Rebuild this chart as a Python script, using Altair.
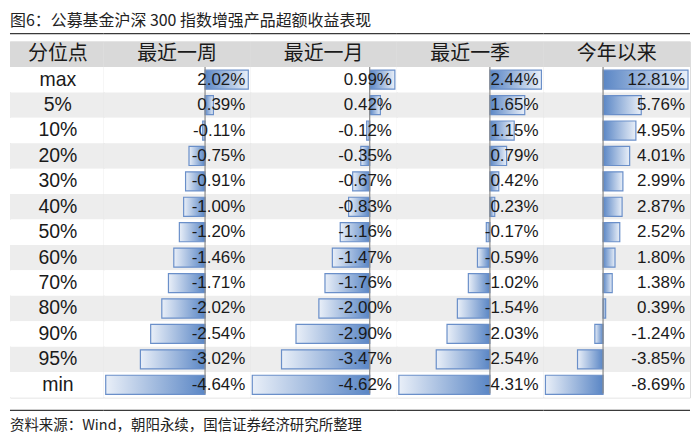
import altair as alt
import pandas as pd

# ---- data ----
title_text = "图6：公募基金沪深 300 指数增强产品超额收益表现"
source_text = "资料来源：Wind，朝阳永续，国信证券经济研究所整理"
headers = ["分位点", "最近一周", "最近一月", "最近一季", "今年以来"]
quantiles = ["max", "5%", "10%", "20%", "30%", "40%", "50%", "60%", "70%", "80%", "90%", "95%", "min"]
week = [2.02, 0.39, -0.11, -0.75, -0.91, -1.00, -1.20, -1.46, -1.71, -2.02, -2.54, -3.02, -4.64]
month = [0.99, 0.42, -0.12, -0.35, -0.67, -0.83, -1.16, -1.47, -1.76, -2.00, -2.90, -3.47, -4.62]
quarter = [2.44, 1.65, 1.15, 0.79, 0.42, 0.23, -0.17, -0.59, -1.02, -1.54, -2.03, -2.54, -4.31]
ytd = [12.81, 5.76, 4.95, 4.01, 2.99, 2.87, 2.52, 1.80, 1.38, 0.39, -1.24, -3.85, -8.69]

# ---- layout / style ----
W0 = 94
W = 147
RH = 25.5
rows = ["header"] + quantiles
H = RH * len(rows)
DARK = "#5a86c5"
LIGHT = "#e9eff8"
EDGE = "#6a8fc9"
CJK = "Noto Sans CJK SC"
LAT = "Liberation Sans"

stripe_colors = ["#d9d9d9"] + [("#ededed" if i % 2 == 1 else "#ffffff") for i in range(len(quantiles))]
stripe_df = pd.DataFrame({"row": rows, "fill": stripe_colors})

Y = alt.Y("row:N", scale=alt.Scale(domain=rows, paddingInner=0, paddingOuter=0), axis=None)


def stripes(width):
    return alt.Chart(stripe_df).mark_rect().encode(
        x=alt.value(0), x2=alt.value(width), y=Y, color=alt.Color("fill:N", scale=None)
    )


def hlines(width):
    ln = pd.DataFrame({"k": [0]})
    top = alt.Chart(ln).mark_rule(color="#3a3a3a", strokeWidth=1.3).encode(
        x=alt.value(0), x2=alt.value(width), y=alt.value(-8)
    )
    bot = alt.Chart(ln).mark_rule(color="#3a3a3a", strokeWidth=1.3).encode(
        x=alt.value(0), x2=alt.value(width), y=alt.value(370)
    )
    return [top, bot]


def grad(dark_left):
    stops = [{"offset": 0, "color": DARK}, {"offset": 1, "color": LIGHT}]
    if not dark_left:
        stops = [{"offset": 0, "color": LIGHT}, {"offset": 1, "color": DARK}]
    return {"gradient": "linear", "x1": 0, "x2": 1, "y1": 0, "y2": 0, "stops": stops}


def value_panel(name, vals):
    df = pd.DataFrame({"row": quantiles, "v": vals, "lbl": [f"{v:.2f}%" for v in vals]})
    xs = alt.Scale(domain=[min(vals), max(vals)], range=[2, W - 2], nice=False, zero=False)
    X = alt.X("v:Q", scale=xs, axis=None)
    base = alt.Chart(df)
    pos = base.transform_filter("datum.v >= 0").mark_bar(
        height=alt.RelativeBandSize(0.75), color=grad(True), stroke=EDGE, strokeWidth=1.2
    ).encode(x=X, x2=alt.datum(0), y=Y)
    neg = base.transform_filter("datum.v < 0").mark_bar(
        height=alt.RelativeBandSize(0.75), color=grad(False), stroke=EDGE, strokeWidth=1.2
    ).encode(x=X, x2=alt.datum(0), y=Y)
    axis_rule = alt.Chart(pd.DataFrame({"v": [0.0]})).mark_rule(color="#8a8a8a", strokeWidth=1.2).encode(
        x=X, y=alt.value(RH), y2=alt.value(H - 4)
    )
    labels = base.mark_text(align="right", baseline="middle", fontSize=17, font=LAT, color="#1a1a1a").encode(
        x=alt.value(W - 5), y=Y, text="lbl:N"
    )
    head = alt.Chart(pd.DataFrame({"row": ["header"], "t": [name]})).mark_text(
        align="center", baseline="middle", fontSize=20, font=CJK, color="#1a1a1a"
    ).encode(x=alt.value(W / 2), y=Y, text="t:N")
    return alt.layer(stripes(W), pos, neg, axis_rule, labels, head, *hlines(W)).properties(width=W, height=H)


# first column: quantile labels, plus title and source
lab_df = pd.DataFrame({"row": quantiles})
p0_labels = alt.Chart(lab_df).mark_text(
    align="center", baseline="middle", fontSize=19.5, font=LAT, color="#1a1a1a"
).encode(x=alt.value(48), y=Y, text="row:N")
p0_head = alt.Chart(pd.DataFrame({"row": ["header"], "t": [headers[0]]})).mark_text(
    align="center", baseline="middle", fontSize=20, font=CJK, color="#1a1a1a"
).encode(x=alt.value(48), y=Y, text="t:N")
p0_title = alt.Chart(pd.DataFrame({"t": [title_text]})).mark_text(
    align="left", baseline="middle", fontSize=16, font=CJK, color="#222222"
).encode(x=alt.value(0), y=alt.value(-21), text="t:N")
p0_source = alt.Chart(pd.DataFrame({"t": [source_text]})).mark_text(
    align="left", baseline="middle", fontSize=14.5, font=CJK, color="#222222"
).encode(x=alt.value(0), y=alt.value(386), text="t:N")
p0 = alt.layer(stripes(W0), p0_labels, p0_head, p0_title, p0_source, *hlines(W0)).properties(width=W0, height=H)

chart = alt.hconcat(
    p0,
    value_panel(headers[1], week),
    value_panel(headers[2], month),
    value_panel(headers[3], quarter),
    value_panel(headers[4], ytd),
    spacing=0,
    bounds="flush",
    padding={"top": 3, "left": 0, "right": 0, "bottom": 0},
).configure_view(stroke=None).configure(background="white")

chart.save("out.html", embed_options={"renderer": "svg", "actions": False})
